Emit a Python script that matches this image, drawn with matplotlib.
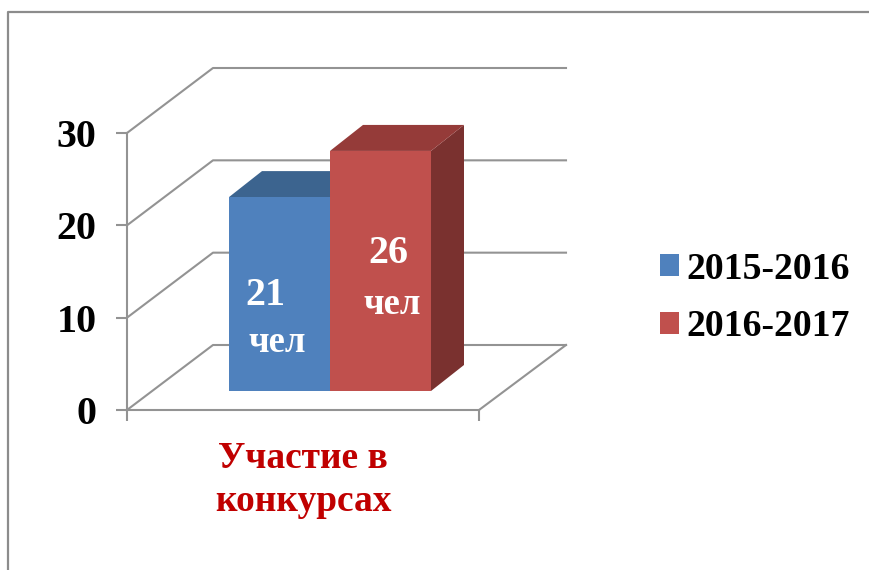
import matplotlib
matplotlib.use('Agg')
import matplotlib.pyplot as plt
from matplotlib.patches import Polygon, Patch, Rectangle

plt.rcParams['font.family'] = ['Liberation Serif', 'DejaVu Sans']
plt.rcParams['font.weight'] = 'bold'

category = ['Участие в\nконкурсах']
series = ['2015-2016', '2016-2017']
values = [21, 26]
bar_labels = [('21', 'чел'), ('26', 'чел')]
y_ticks = [0, 10, 20, 30]

W, H = 869, 570
GRAY = '#939393'
front_colors = ['#4f81bd', '#c0504d']
top_colors = ['#3c648f', '#953b39']
side_colors = ['#2f4f78', '#7a312f']

fig = plt.figure(figsize=(W / 100, H / 100), dpi=100)

# outline of the chart area, it runs off the image on the right and at the bottom
fig.add_artist(plt.Line2D([8 / W, 8 / W, 1], [0, 1 - 12 / H, 1 - 12 / H], color='#8c8c8c', lw=1.6))

# front of the 3d box: x 127..479 px, y 410..133 px
ax = fig.add_axes([127 / W, 1 - 410 / H, 352 / W, 277 / H])
ax.set_xlim(0, 1)
ax.set_ylim(0, 30)
ax.patch.set_visible(False)
for s in ['top', 'right']:
    ax.spines[s].set_visible(False)
for s in ['left', 'bottom']:
    ax.spines[s].set_color(GRAY)
    ax.spines[s].set_linewidth(1.5)
ax.set_yticks(y_ticks)
ax.set_xticks([0, 1])
ax.set_xticklabels([])
ax.tick_params(axis='y', length=8, width=1.5, color=GRAY, labelsize=28.8, pad=14)
ax.tick_params(axis='x', length=8, width=1.5, color=GRAY)

# perspective shift of the back wall, in axis units
dx = 86 / 352
dy = 65 / 277 * 30
right = 1 + 87 / 352

for v in y_ticks:
    ax.plot([0, dx, right], [v, v + dy, v + dy], color=GRAY, lw=1.5, clip_on=False, zorder=1)
ax.plot([1, right], [0, dy], color=GRAY, lw=1.5, clip_on=False, zorder=1)

# bars stand in the middle of the floor
bar_w = 101 / 352
bar_x = [102 / 352, 203 / 352]
base = 19 / 277 * 30
bdx = 33 / 352
bdy = 26 / 277 * 30

for i, v in enumerate(values):
    x0 = bar_x[i]
    x1 = x0 + bar_w
    top = base + v
    ax.add_patch(Polygon([(x1, base), (x1 + bdx, base + bdy), (x1 + bdx, top + bdy), (x1, top)],
                         fc=side_colors[i], ec='none', clip_on=False, zorder=2 + i))
    ax.add_patch(Polygon([(x0, top), (x0 + bdx, top + bdy), (x1 + bdx, top + bdy), (x1, top)],
                         fc=top_colors[i], ec='none', clip_on=False, zorder=2 + i))
    ax.add_patch(Rectangle((x0, base), bar_w, v, fc=front_colors[i], ec='none', clip_on=False, zorder=2 + i))

# data labels are two lines, number on top, not centred in the original
ax.text(0.3935, 12.4, bar_labels[0][0], color='white', ha='center', va='center', fontsize=28.8, zorder=6)
ax.text(0.426, 7.36, bar_labels[0][1], color='white', ha='center', va='center', fontsize=26.4, zorder=6)
ax.text(0.7415, 16.9, bar_labels[1][0], color='white', ha='center', va='center', fontsize=28.8, zorder=6)
ax.text(0.753, 11.48, bar_labels[1][1], color='white', ha='center', va='center', fontsize=26.4, zorder=6)

fig.text(303 / W, 1 - 480 / H, category[0], color='#c00000', ha='center', va='center', fontsize=26.9, linespacing=1.27)

handles = [Patch(fc=front_colors[i], ec='none', label=series[i]) for i in range(2)]
fig.legend(handles=handles, loc='center left', bbox_to_anchor=(660 / W, 1 - 298 / H), frameon=False,
           fontsize=27.2, borderpad=0, borderaxespad=0, handlelength=0.5, handleheight=0.5,
           handletextpad=0.2, labelspacing=0.6)

fig.savefig('out.png', dpi=100)
